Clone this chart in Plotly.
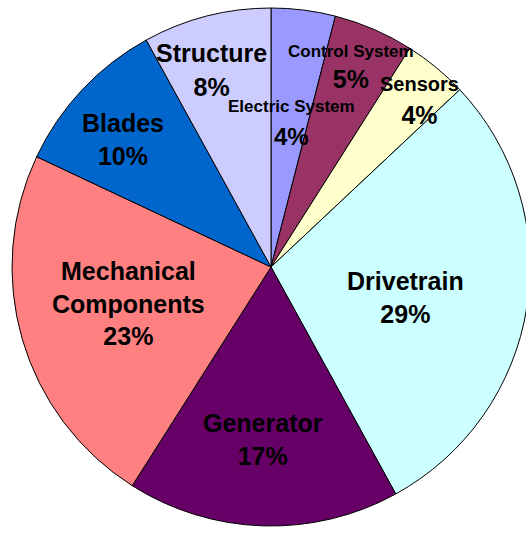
import plotly.graph_objects as go

# Données : répartition des coûts (sens horaire depuis midi)
labels = ["Electric System", "Control System", "Sensors", "Drivetrain",
          "Generator", "Mechanical Components", "Blades", "Structure"]
values = [4, 5, 4, 29, 17, 23, 10, 8]
colors = ["#9999FF", "#993366", "#FFFFCC", "#CCFFFF",
          "#660066", "#FF8080", "#0066CC", "#CCCCFF"]

# Texte affiché (libellé sur une ou deux lignes)
label_text = ["Electric System", "Control System", "Sensors", "Drivetrain",
              "Generator", "Mechanical<br>Components", "Blades", "Structure"]

W, H = 540, 533
M = dict(l=12, r=10, t=8, b=7)

# centre des étiquettes en pixels, et taille de police du libellé
LABEL_POS = [(291, 123), (351, 67), (419, 101), (405, 297),
             (263, 439), (128, 303), (123, 140), (211, 70)]
NAME_SIZE = [17, 17, 20, 25, 25, 25, 25, 25]
PCT_SIZE = [24, 25, 25, 25, 25, 25, 25, 25]
LINE_SIZE = [25, 24, 25, 25, 25, 25, 25, 26]


def to_paper(px, py):
    pw = W - M["l"] - M["r"]
    ph = H - M["t"] - M["b"]
    return (px - M["l"]) / pw, 1 - (py - M["t"]) / ph


fig = go.Figure(go.Pie(
    labels=labels,
    values=values,
    sort=False,
    direction="clockwise",
    rotation=0,
    marker=dict(colors=colors, line=dict(color="#000000", width=1)),
    textinfo="none",
    hoverinfo="label+percent",
    showlegend=False,
))

for i, (lab, val) in enumerate(zip(label_text, values)):
    x, y = to_paper(*LABEL_POS[i])
    fig.add_annotation(
        x=x, y=y, xref="paper", yref="paper",
        xanchor="center", yanchor="middle",
        text=f"<b><span style='font-size:{NAME_SIZE[i]}px'>{lab}</span>"
             f"<br><span style='font-size:{PCT_SIZE[i]}px'>{val}%</span></b>",
        showarrow=False,
        font=dict(color="#000000", size=LINE_SIZE[i]),
        align="center",
    )

fig.update_layout(
    width=W, height=H,
    margin=M,
    paper_bgcolor="white",
    font=dict(family="Liberation Sans, Arial, sans-serif", color="#000000"),
)

# le camembert déborde à droite comme dans l'original : pas de marge ni de barres
fig.write_html(
    "out.html",
    config={"displayModeBar": False},
    post_script="document.body.style.margin='0';"
                "document.body.style.overflow='hidden';",
)
